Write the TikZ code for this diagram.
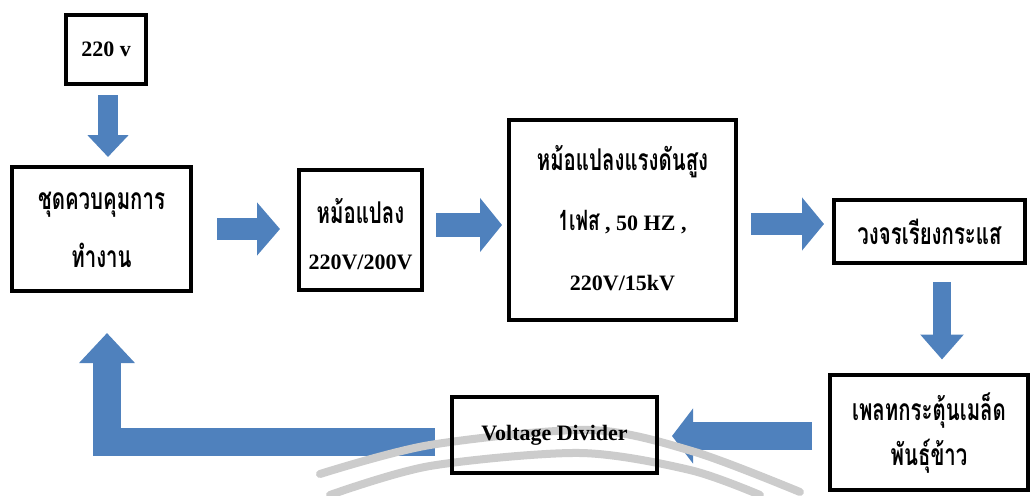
\documentclass[tikz,border=0pt]{standalone}
\usepackage{fontspec}
\setmainfont{Liberation Serif}
\newfontfamily\thaifont[Script=Thai,FakeStretch=0.68]{Loma}
\usetikzlibrary{arrows.meta,calc}
\definecolor{arrowblue}{RGB}{79,129,189}
\tikzset{
  box/.style={draw=black, line width=4pt, fill=white, inner sep=0pt, outer sep=0pt, align=center},
  lat/.style={font=\fontsize{22}{22}\selectfont\bfseries},
  thai/.style={font=\thaifont\fontsize{30}{30}\selectfont\bfseries},
  fat/.style={draw=arrowblue, line width=#1, line join=miter},
  fat/.default=22pt,
  wmark/.style={black!20, line width=8pt, line cap=round},
}
\begin{document}
\begin{tikzpicture}[x=1pt,y=-1pt]
\useasboundingbox (0,0) rectangle (1030,495);
% boxes
\node[box, minimum width=80, minimum height=69] (b220) at (106,49.5) {};
\node[box, minimum width=179, minimum height=124] (ctrl) at (101.5,229) {};
\node[box, minimum width=123, minimum height=120] (tr1) at (360.5,230) {};
\node[box, minimum width=227, minimum height=200] (hv) at (622.5,220) {};
\node[box, minimum width=191, minimum height=63] (rect) at (929.5,231.5) {};
\node[box, minimum width=198, minimum height=115] (plate) at (929,432.5) {};
\node[box, minimum width=205, minimum height=76] (vd) at (554.5,435) {};
% block arrows
\draw[fat=20pt, -{Triangle[width=40pt,length=22pt]}]
  ($(b220.south)+(2,11)$) -- ($(b220.south)+(2,73)$);
\draw[fat=22pt, -{Triangle[width=52pt,length=23pt]}]
  ($(ctrl.east)+(26,0)$) -- ($(tr1.west)+(-19,-1)$);
\draw[fat=24pt, -{Triangle[width=53pt,length=22pt]}]
  ($(tr1.east)+(14,-5)$) -- ($(hv.west)+(-7,5)$);
\draw[fat=22pt, -{Triangle[width=52pt,length=22pt]}]
  ($(hv.east)+(15,4)$) -- ($(rect.west)+(-10,-7.5)$);
\draw[fat=18pt, -{Triangle[width=42pt,length=25pt]}]
  ($(rect.south)+(12.5,19)$) -- ($(plate.north)+(13,-15.5)$);
\draw[fat=28pt, -{Triangle[width=54pt,length=21pt]}]
  ($(plate.west)+(-18,3.5)$) -- ($(vd.east)+(15,1)$);
\draw[fat=28pt, -{Triangle[width=54pt,length=30pt]}]
  ($(vd.west)+(-17,7)$) -| ($(ctrl.south)+(5.5,42)$);
% watermark arcs
\draw[wmark] plot[smooth] coordinates {(320,474) (430,445) (590,430) (695,452) (800,492)};
\draw[wmark] plot[smooth] coordinates {(330,495) (430,466) (580,453) (690,470) (760,495)};
\draw[box, fill=none] (vd.north west) rectangle (vd.south east);
% texts
\node[lat] at (b220.center) {220 v};
\node[thai] at (101.5,205) {ชุดควบคุมการ};
\node[thai] at (101.5,255) {ทำงาน};
\node[thai] at (360.5,211) {หม้อแปลง};
\node[lat] at (360.5,262) {220V/200V};
\node[thai] at (622.5,162) {หม้อแปลงแรงดันสูง};
\node[lat] at (622.5,222) {{\thaifont\fontsize{28}{28}\selectfont 1เฟส} , 50 HZ ,};
\node[lat] at (622.5,283) {220V/15kV};
\node[thai] at (rect.center) {วงจรเรียงกระแส};
\node[thai] at (929,411) {เพลทกระตุ้นเมล็ด};
\node[thai] at (929,456) {พันธุ์ข้าว};
\node[lat] at (vd.center) {Voltage Divider};
\end{tikzpicture}
\end{document}
